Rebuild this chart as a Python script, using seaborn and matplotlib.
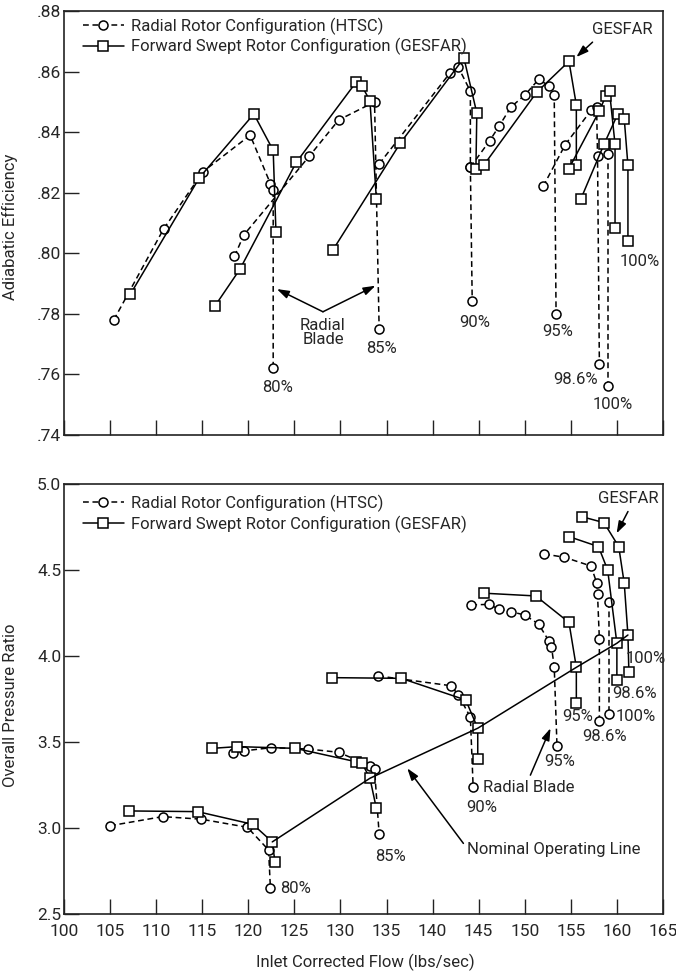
import matplotlib
matplotlib.use("Agg")
import matplotlib.pyplot as plt
from matplotlib.lines import Line2D
import seaborn as sns
import pandas as pd

# Efficiency map, (flow, efficiency) per speed line
htsc_eff_80 = [(105.4, .778), (110.8, .808), (115.1, .827), (120.2, .839), (122.4, .823), (122.7, .821), (122.7, .762)]
htsc_eff_85 = [(118.5, .799), (119.5, .806), (126.6, .832), (129.8, .844), (133.7, .850), (134.2, .775)]
htsc_eff_90 = [(134.2, .8295), (141.9, .8596), (142.8, .8614), (144.1, .8535), (144.1, .8284), (144.3, .7841)]
htsc_eff_95 = [(144.1, .8284), (146.2, .8372), (147.2, .8419), (148.5, .8483), (150.0, .8522), (151.5, .8574),
               (152.6, .8554), (153.2, .8524), (153.4, .7799)]
htsc_eff_986 = [(152.0, .8221), (154.4, .8359), (157.2, .8472), (157.8, .8483), (157.9, .832), (158.1, .7635)]
htsc_eff_100 = [(159.0, .8329), (159.0, .7562)]

gesfar_eff_80 = [(107.2, .7865), (114.7, .8250), (120.6, .8460), (122.7, .8340), (123.0, .8070)]
gesfar_eff_85 = [(116.4, .7827), (119.1, .7948), (125.2, .8300), (131.7, .8565), (132.3, .8554), (133.2, .8504), (133.9, .8179)]
gesfar_eff_90 = [(129.2, .8012), (136.5, .8364), (143.4, .8645), (144.8, .8463), (144.7, .8278)]
gesfar_eff_95 = [(145.6, .8293), (151.3, .8532), (154.8, .8634), (155.6, .8490), (155.6, .8290)]
gesfar_eff_986 = [(154.8, .8280), (158.1, .8470), (158.8, .8520), (159.2, .8535), (159.8, .8360), (159.8, .8083)]
gesfar_eff_100 = [(156.1, .8180), (158.6, .8360), (160.1, .8460), (160.8, .8444), (161.2, .8290), (161.2, .8040)]

# Pressure ratio map, (flow, pressure ratio) per speed line
htsc_pr_80 = [(105.0, 3.013), (110.7, 3.066), (114.9, 3.051), (119.9, 3.004), (122.2, 2.872), (122.4, 2.649)]
htsc_pr_85 = [(118.3, 3.434), (119.5, 3.448), (122.5, 3.467), (126.5, 3.459), (129.8, 3.440), (133.2, 3.362),
              (133.7, 3.341), (134.2, 2.965)]
htsc_pr_90 = [(134.1, 3.884), (142.0, 3.827), (142.8, 3.773), (144.1, 3.644), (144.4, 3.240)]
htsc_pr_95 = [(144.2, 4.297), (146.1, 4.300), (147.2, 4.273), (148.5, 4.258), (150.0, 4.238), (151.5, 4.186),
              (152.6, 4.089), (152.9, 4.054), (153.2, 3.938), (153.5, 3.479)]
htsc_pr_986 = [(152.1, 4.593), (154.3, 4.574), (157.2, 4.523), (157.8, 4.426), (157.9, 4.359), (158.1, 4.097), (158.1, 3.620)]
htsc_pr_100 = [(159.1, 4.314), (159.1, 3.665)]

gesfar_pr_80 = [(107.1, 3.099), (114.5, 3.095), (120.5, 3.021), (122.6, 2.919), (122.9, 2.800)]
gesfar_pr_85 = [(116.1, 3.463), (118.8, 3.473), (125.1, 3.463), (131.7, 3.385), (132.3, 3.380), (133.2, 3.289), (133.9, 3.114)]
gesfar_pr_90 = [(129.1, 3.874), (136.6, 3.870), (143.6, 3.744), (144.9, 3.580), (144.9, 3.401)]
gesfar_pr_95 = [(145.6, 4.365), (151.2, 4.349), (154.8, 4.195), (155.6, 3.934), (155.6, 3.724)]
gesfar_pr_986 = [(154.8, 4.694), (158.0, 4.636), (159.0, 4.500), (160.0, 4.074), (160.0, 3.860)]
gesfar_pr_100 = [(156.2, 4.810), (158.6, 4.775), (160.2, 4.636), (160.8, 4.422), (161.2, 4.122), (161.3, 3.909)]

# nominal operating line through the GESFAR points
op_flow = [122.6, 133.2, 144.9, 155.6, 160.0, 161.2]
op_pr = [2.919, 3.289, 3.580, 3.934, 4.074, 4.122]

speeds = ["80%", "85%", "90%", "95%", "98.6%", "100%"]
eff_ticks = [.74, .76, .78, .80, .82, .84, .86, .88]
eff_labels = [".74", ".76", ".78", ".80", ".82", ".84", ".86", ".88"]
pr_ticks = [2.5, 3.0, 3.5, 4.0, 4.5, 5.0]
flow_ticks = list(range(100, 166, 5))

label_htsc = "Radial Rotor Configuration (HTSC)"
label_gesfar = "Forward Swept Rotor Configuration (GESFAR)"


def to_frame(htsc, gesfar):
    rows = []
    for config, curves in (("HTSC", htsc), ("GESFAR", gesfar)):
        for speed, pts in zip(speeds, curves):
            for flow, val in pts:
                rows.append({"flow": flow, "value": val, "config": config, "curve": config + speed})
    return pd.DataFrame(rows)


eff_df = to_frame([htsc_eff_80, htsc_eff_85, htsc_eff_90, htsc_eff_95, htsc_eff_986, htsc_eff_100],
                  [gesfar_eff_80, gesfar_eff_85, gesfar_eff_90, gesfar_eff_95, gesfar_eff_986, gesfar_eff_100])
pr_df = to_frame([htsc_pr_80, htsc_pr_85, htsc_pr_90, htsc_pr_95, htsc_pr_986, htsc_pr_100],
                 [gesfar_pr_80, gesfar_pr_85, gesfar_pr_90, gesfar_pr_95, gesfar_pr_986, gesfar_pr_100])
op_df = pd.DataFrame({"flow": op_flow, "value": op_pr})

sns.set_theme(style="ticks")
plt.rcParams["font.family"] = ["Liberation Sans Narrow", "Roboto", "DejaVu Sans"]
plt.rcParams["axes.edgecolor"] = "#222222"

DASH = (3.8, 2.4)
FS = 12

fig = plt.figure(figsize=(6.76, 9.75), dpi=100)
ax1 = fig.add_axes([0.0947, 0.5538, 0.886, 0.4349])
ax2 = fig.add_axes([0.0947, 0.0626, 0.886, 0.441])


def draw_map(ax, df):
    sns.lineplot(data=df, x="flow", y="value", style="config", units="curve", estimator=None, sort=False,
                 markers={"HTSC": "o", "GESFAR": "s"}, dashes={"HTSC": DASH, "GESFAR": ""},
                 color="black", linewidth=1.1, markersize=6.5, markerfacecolor="white",
                 markeredgecolor="black", markeredgewidth=1.1, legend=False, ax=ax)


def style_axes(ax, ylim, yticks, ylabels):
    ax.set_xlim(100, 165)
    ax.set_ylim(*ylim)
    ax.set_xticks(flow_ticks)
    ax.set_yticks(yticks, ylabels)
    ax.tick_params(direction="in", length=11, width=1.0, labelsize=12.5, color="#222222")
    ax.tick_params(axis="x", pad=7)
    ax.tick_params(axis="y", pad=2)
    for s in ax.spines.values():
        s.set_linewidth(1.2)
        s.set_visible(True)
    handles = [
        Line2D([], [], color="black", lw=1.1, ls=(0, DASH), marker="o", ms=6.5, mfc="white", mec="black", mew=1.1),
        Line2D([], [], color="black", lw=1.1, marker="s", ms=6.5, mfc="white", mec="black", mew=1.1),
    ]
    return handles


arrow = dict(arrowstyle="-|>,head_length=0.6,head_width=0.2", color="black", lw=1.1, shrinkA=0, shrinkB=0)

# ---- top: efficiency ----
draw_map(ax1, eff_df)
h = style_axes(ax1, (.74, .88), eff_ticks, eff_labels)
ax1.tick_params(axis="x", labelbottom=False)
ax1.set_xlabel("")
ax1.set_ylabel("Adiabatic Efficiency", fontsize=12)
ax1.yaxis.set_label_coords(-0.077, 0.49)
ax1.legend(h, [label_htsc, label_gesfar], loc="upper left", bbox_to_anchor=(0.031, 0.985), frameon=False,
           fontsize=FS, handlelength=2.5, handletextpad=0.4, labelspacing=0.2, borderpad=0, borderaxespad=0)

ax1.annotate("", xy=(123.1, .7882), xytext=(128.1, .7807), arrowprops=arrow)
ax1.annotate("", xy=(133.8, .7893), xytext=(128.1, .7807), arrowprops=arrow)
ax1.text(128.1, .7738, "Radial\nBlade", ha="center", va="center", fontsize=FS, linespacing=0.95)
ax1.annotate("GESFAR", xy=(155.6, .8648), xytext=(160.6, .8739), ha="center", va="center", fontsize=FS,
             arrowprops=dict(arrow, relpos=(0.1, 0.0), shrinkA=2))
for x, y, t in [(123.2, .7556, "80%"), (134.5, .7687, "85%"), (144.6, .7771, "90%"), (153.6, .7742, "95%"),
                (155.5, .7585, "98.6%"), (159.6, .7502, "100%"), (162.5, .7973, "100%")]:
    ax1.text(x, y, t, ha="center", va="center", fontsize=FS)

# ---- bottom: pressure ratio ----
draw_map(ax2, pr_df)
sns.lineplot(data=op_df, x="flow", y="value", sort=False, estimator=None, color="black", linewidth=1.1, ax=ax2)
h = style_axes(ax2, (2.5, 5.0), pr_ticks, [f"{v:.1f}" for v in pr_ticks])
ax2.set_xticklabels([str(v) for v in flow_ticks])
ax2.set_xlabel("Inlet Corrected Flow (lbs/sec)", fontsize=12)
ax2.xaxis.set_label_coords(0.5025, -0.112)
ax2.xaxis.label.set_va("center")
ax2.set_ylabel("Overall Pressure Ratio", fontsize=12)
ax2.yaxis.set_label_coords(-0.077, 0.486)
ax2.legend(h, [label_htsc, label_gesfar], loc="upper left", bbox_to_anchor=(0.031, 0.975), frameon=False,
           fontsize=FS, handlelength=2.5, handletextpad=0.4, labelspacing=0.2, borderpad=0, borderaxespad=0)

ax2.annotate("GESFAR", xy=(159.97, 4.713), xytext=(161.2, 4.917), ha="center", va="center", fontsize=FS,
             arrowprops=dict(arrow, relpos=(0.55, 0.0), shrinkA=2))
ax2.annotate("Radial Blade", xy=(152.8, 3.580), xytext=(150.4, 3.237), ha="center", va="center", fontsize=FS,
             arrowprops=dict(arrow, relpos=(0.5, 1.0), shrinkA=1))
ax2.annotate("Nominal Operating Line", xy=(137.25, 3.347), xytext=(143.7, 2.876), ha="left", va="center",
             fontsize=FS, arrowprops=dict(arrow, relpos=(0, 0.6)))
for x, y, t in [(163.1, 3.987, "100%"), (161.9, 3.779, "98.6%"), (162.0, 3.647, "100%"), (155.8, 3.647, "95%"),
                (158.7, 3.529, "98.6%"), (153.8, 3.385, "95%"), (145.3, 3.118, "90%"), (135.4, 2.837, "85%")]:
    ax2.text(x, y, t, ha="center", va="center", fontsize=FS)
ax2.text(123.4, 2.649, "80%", ha="left", va="center", fontsize=FS)

fig.savefig("out.png", dpi=100)
